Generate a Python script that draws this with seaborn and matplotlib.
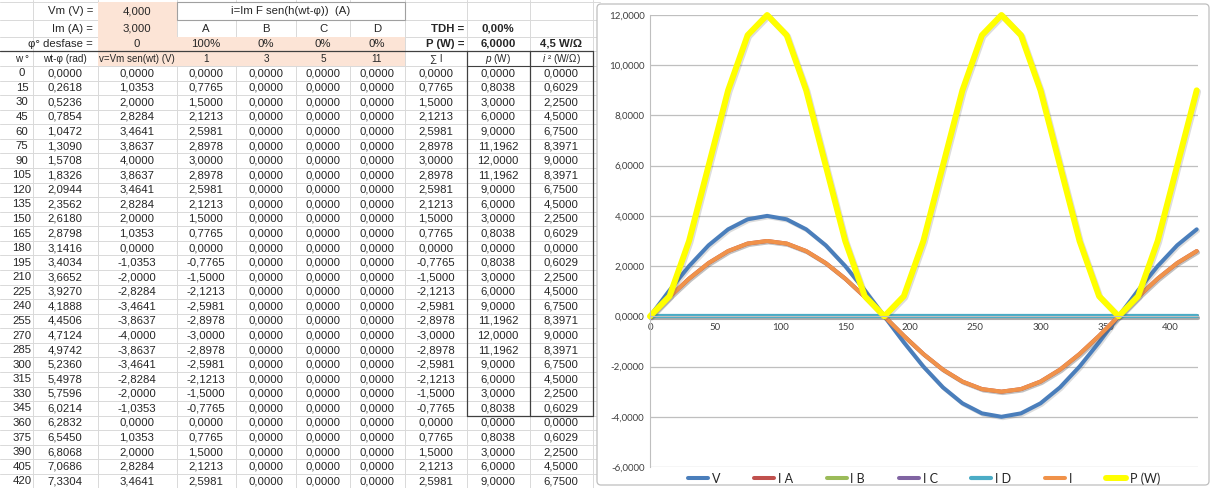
import numpy as np
import pandas as pd
import seaborn as sns
import matplotlib.pyplot as plt
import matplotlib.patheffects as pe
from matplotlib.patches import Rectangle, FancyBboxPatch
from matplotlib.ticker import FuncFormatter

# ---------------- data (read from the sheet) ----------------
w_deg = [0, 15, 30, 45, 60, 75, 90, 105, 120, 135, 150, 165, 180, 195, 210,
         225, 240, 255, 270, 285, 300, 315, 330, 345, 360, 375, 390, 405, 420]
wt_rad = [0.0000, 0.2618, 0.5236, 0.7854, 1.0472, 1.3090, 1.5708, 1.8326, 2.0944,
          2.3562, 2.6180, 2.8798, 3.1416, 3.4034, 3.6652, 3.9270, 4.1888, 4.4506,
          4.7124, 4.9742, 5.2360, 5.4978, 5.7596, 6.0214, 6.2832, 6.5450, 6.8068,
          7.0686, 7.3304]
v_volt = [0.0000, 1.0353, 2.0000, 2.8284, 3.4641, 3.8637, 4.0000, 3.8637, 3.4641,
          2.8284, 2.0000, 1.0353, 0.0000, -1.0353, -2.0000, -2.8284, -3.4641, -3.8637,
          -4.0000, -3.8637, -3.4641, -2.8284, -2.0000, -1.0353, 0.0000, 1.0353, 2.0000,
          2.8284, 3.4641]
i_a = [0.0000, 0.7765, 1.5000, 2.1213, 2.5981, 2.8978, 3.0000, 2.8978, 2.5981,
       2.1213, 1.5000, 0.7765, 0.0000, -0.7765, -1.5000, -2.1213, -2.5981, -2.8978,
       -3.0000, -2.8978, -2.5981, -2.1213, -1.5000, -0.7765, 0.0000, 0.7765, 1.5000,
       2.1213, 2.5981]
i_b = [0.0] * 29
i_c = [0.0] * 29
i_d = [0.0] * 29
i_sum = [0.0000, 0.7765, 1.5000, 2.1213, 2.5981, 2.8978, 3.0000, 2.8978, 2.5981,
         2.1213, 1.5000, 0.7765, 0.0000, -0.7765, -1.5000, -2.1213, -2.5981, -2.8978,
         -3.0000, -2.8978, -2.5981, -2.1213, -1.5000, -0.7765, 0.0000, 0.7765, 1.5000,
         2.1213, 2.5981]
p_watt = [0.0000, 0.8038, 3.0000, 6.0000, 9.0000, 11.1962, 12.0000, 11.1962, 9.0000,
          6.0000, 3.0000, 0.8038, 0.0000, 0.8038, 3.0000, 6.0000, 9.0000, 11.1962,
          12.0000, 11.1962, 9.0000, 6.0000, 3.0000, 0.8038, 0.0000, 0.8038, 3.0000,
          6.0000, 9.0000]
i_sq = [0.0000, 0.6029, 2.2500, 4.5000, 6.7500, 8.3971, 9.0000, 8.3971, 6.7500,
        4.5000, 2.2500, 0.6029, 0.0000, 0.6029, 2.2500, 4.5000, 6.7500, 8.3971,
        9.0000, 8.3971, 6.7500, 4.5000, 2.2500, 0.6029, 0.0000, 0.6029, 2.2500,
        4.5000, 6.7500]

harm_names = ['A', 'B', 'C', 'D']
harm_pct = ['100%', '0%', '0%', '0%']
harm_order = ['1', '3', '5', '11']

series_names = ['V', 'I A', 'I B', 'I C', 'I D', 'I', 'P (W)']
series_colors = ['#4A7EBB', '#C0504D', '#9BBB59', '#8064A2', '#4BACC6', '#F0924A', '#FFFF00']
series_lw = [2.9, 2.9, 2.9, 2.9, 3.0, 2.9, 4.3]

sns.set_style('white')
plt.rcParams['font.family'] = ['Liberation Sans', 'DejaVu Sans']
plt.rcParams['mathtext.fontset'] = 'custom'
plt.rcParams['mathtext.it'] = 'Liberation Sans:italic'
plt.rcParams['mathtext.rm'] = 'Liberation Sans'

W, H = 1212, 488
fig = plt.figure(figsize=(W / 100, H / 100), dpi=100)

# ---------------- spreadsheet part (pixel coords) ----------------
tab = fig.add_axes([0, 0, 1, 1])
tab.set_xlim(0, W)
tab.set_ylim(H, 0)
tab.axis('off')

col_edges = [33, 98, 177, 236, 296, 350, 405, 467, 530, 593]
col_mid = [22, 65, 137, 206, 266, 323, 377, 436, 498, 561]
rh = 14.57
row_edges = [2, 20, 36.5, 51, 66] + [66 + rh * k for k in range(1, 30)]

grid_c = '#D9D9D9'
for x in col_edges:
    tab.plot([x, x], [0, H], color=grid_c, lw=0.7, zorder=1)
for y in row_edges:
    tab.plot([0, 600], [y, y], color=grid_c, lw=0.7, zorder=1)

peach = '#FCE4D6'
tab.add_patch(Rectangle((98, 2), 79, 49, fc=peach, ec='none', zorder=2))
tab.add_patch(Rectangle((177, 36.5), 228, 14.5, fc=peach, ec='none', zorder=2))
tab.add_patch(Rectangle((98, 51), 307, 15, fc=peach, ec='none', zorder=2))
# merged title cell
tab.add_patch(Rectangle((177, 2), 228, 18, fc='white', ec='#A0A0A0', lw=0.8, zorder=3))

dark = '#404040'
tab.plot([0, 593], [51, 51], color=dark, lw=0.9, zorder=3)
tab.plot([467, 593], [66, 66], color=dark, lw=0.8, zorder=3)
box_bot = 66 + rh * 24
for x in [467, 530, 593]:
    tab.plot([x, x], [51, box_bot], color=dark, lw=0.9, zorder=3)
tab.plot([467, 593], [box_bot, box_bot], color=dark, lw=0.9, zorder=3)

fs = 8.2


def cell(x, y, s, ha='center', **kw):
    tab.text(x, y, s, ha=ha, va='center', fontsize=kw.pop('size', fs), zorder=4, **kw)


cell(93, 11, 'Vm (V) =', ha='right')
cell(93, 28.5, 'Im (A) =', ha='right')
cell(93, 44, 'φ° desfase =', ha='right')
cell(137, 11, '4,000')
cell(137, 28.5, '3,000')
cell(137, 44, '0')
cell(291, 11, 'i=Im F sen(h(wt-φ))  (A)')
for k in range(4):
    cell(col_mid[3 + k], 28.5, harm_names[k])
    cell(col_mid[3 + k], 44, harm_pct[k])
    cell(col_mid[3 + k], 58.5, harm_order[k], size=7.2)
cell(464, 28.5, 'TDH =', ha='right', weight='bold')
cell(498, 28.5, '0,00%', weight='bold')
cell(464, 44, 'P (W) =', ha='right', weight='bold')
cell(498, 44, '6,0000', weight='bold')
cell(561, 44, '4,5 W/Ω', weight='bold')
cell(22, 58.5, 'w °', size=7.2)
cell(65, 58.5, 'wt-φ (rad)', size=7.2)
cell(137, 58.5, 'v=Vm sen(wt) (V)', size=7)
cell(436, 58.5, '∑ I', size=7.2)
cell(498, 58.5, r'$p$ (W)', size=7.2)
cell(561, 58.5, r'$i$ ² (W/Ω)', size=7.2)


def fmt(v):
    return f'{v:.4f}'.replace('.', ',')


cols = [wt_rad, v_volt, i_a, i_b, i_c, i_d, i_sum, p_watt, i_sq]
for r in range(len(w_deg)):
    y = 66 + rh * (r + 0.5)
    cell(col_mid[0], y, str(w_deg[r]))
    for c, vals in enumerate(cols):
        cell(col_mid[c + 1], y, fmt(vals[r]))

# chart frame
tab.add_patch(FancyBboxPatch((597, 4), 612, 481, boxstyle='round,pad=0,rounding_size=4',
                             fc='white', ec='#BFBFBF', lw=0.9, zorder=5))

# ---------------- chart part ----------------
ax = fig.add_axes([650 / W, 1 - 467 / H, 548 / W, 452 / H])
ax.set_zorder(6)
df = pd.DataFrame({'w': w_deg, 'V': v_volt, 'I A': i_a, 'I B': i_b, 'I C': i_c,
                   'I D': i_d, 'I': i_sum, 'P (W)': p_watt})

for name, col, lw in zip(series_names, series_colors, series_lw):
    sns.lineplot(data=df, x='w', y=name, color=col, lw=lw, ax=ax, legend=False)

shadow = [pe.SimpleLineShadow(offset=(1.0, -1.0), alpha=0.2, shadow_color='#555555'), pe.Normal()]
for ln in ax.lines:
    ln.set_path_effects(shadow)
    ln.set_clip_on(False)
    ln.set_solid_capstyle('round')
    ln.set_solid_joinstyle('round')

ax.set_xlim(0, 421)
ax.set_ylim(-6, 12)
ax.set_yticks(np.arange(-6, 13, 2))
ax.set_xticks(np.arange(0, 401, 50))
ax.yaxis.set_major_formatter(FuncFormatter(lambda v, _: fmt(v)))
ax.grid(axis='y', color='#BFBFBF', lw=0.9)
ax.set_axisbelow(True)
ax.spines['bottom'].set_position(('data', 0))
ax.spines['bottom'].set_color('#BFBFBF')
ax.spines['left'].set_color('#BFBFBF')
ax.spines['top'].set_visible(False)
ax.spines['right'].set_visible(False)
ax.tick_params(axis='both', length=0, labelsize=7, colors='#404040')
ax.tick_params(axis='y', pad=4)
ax.tick_params(axis='x', pad=5)
for t in ax.get_xticklabels() + ax.get_yticklabels():
    t.set_family('Lato')
ax.set_xlabel('')
ax.set_ylabel('')

leg = ax.legend(ax.lines, series_names, loc='center', bbox_to_anchor=(0.5, -0.025),
                ncol=7, frameon=False, handlelength=1.6, handletextpad=0.3,
                columnspacing=2.7, prop={'family': 'Lato', 'size': 9})
for h in leg.legend_handles:
    h.set_path_effects([])

fig.savefig('out.png', dpi=100)
